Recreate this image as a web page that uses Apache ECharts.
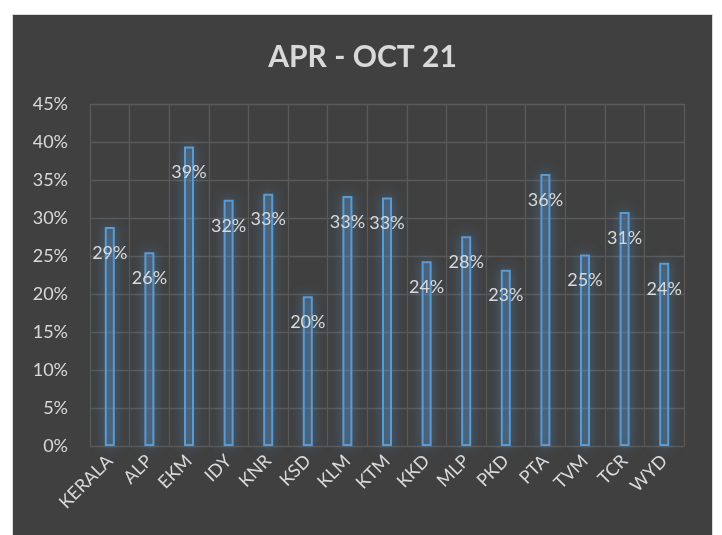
<!DOCTYPE html>
<html>
<head>
<meta charset="utf-8">
<script src="https://cdn.jsdelivr.net/npm/echarts@6/dist/echarts.min.js"></script>
<style>
  html, body { margin: 0; padding: 0; background: #fff; }
  #panel {
    position: absolute; left: 12px; top: 14px;
    width: 699px; height: 521px;
    border: 1px solid #d9d9d9; border-bottom: none;
    background: #404040;
  }
  #chart { width: 699px; height: 521px; }
</style>
</head>
<body>
<div id="panel"><div id="chart"></div></div>
<script>
// 区域
var categories = ['KERALA', 'ALP', 'EKM', 'IDY', 'KNR', 'KSD', 'KLM', 'KTM', 'KKD', 'MLP', 'PKD', 'PTA', 'TVM', 'TCR', 'WYD'];
// 百分比 (%)
var values = [28.8, 25.5, 39.4, 32.4, 33.2, 19.7, 32.9, 32.7, 24.3, 27.6, 23.2, 35.8, 25.2, 30.8, 24.1];
var titleText = 'APR - OCT 21';

var myChart = echarts.init(document.getElementById('chart'));
var option = {
  backgroundColor: 'transparent',
  textStyle: { fontFamily: 'Lato' },
  title: {
    text: titleText,
    left: 'center',
    top: 22,
    textStyle: {
      color: '#d9d9d9',
      fontFamily: 'Lato',
      fontWeight: 'bold',
      fontSize: 30
    }
  },
  grid: {
    left: 77,
    right: 28,
    top: 89,
    bottom: 90
  },
  xAxis: {
    type: 'category',
    data: categories,
    axisLine: { lineStyle: { color: '#5a5a5a' } },
    axisTick: { show: false },
    splitLine: {
      show: true,
      lineStyle: { color: '#5a5a5a', width: 1.3 }
    },
    axisLabel: {
      color: '#d9d9d9',
      fontSize: 18,
      rotate: 45,
      margin: 12,
      interval: 0
    }
  },
  yAxis: {
    type: 'value',
    min: 0,
    max: 45,
    interval: 5,
    axisLine: { show: false },
    axisTick: { show: false },
    splitLine: {
      lineStyle: { color: '#5a5a5a', width: 1.3 }
    },
    axisLabel: {
      color: '#d9d9d9',
      fontSize: 18,
      margin: 22,
      formatter: '{value}%'
    }
  },
  series: [
    {
      type: 'bar',
      data: values,
      barWidth: 10,
      itemStyle: {
        color: 'rgba(91,155,213,0.22)',
        borderColor: '#5b9bd5',
        borderWidth: 2,
        shadowBlur: 14,
        shadowColor: 'rgba(91,155,213,0.8)'
      },
      label: {
        show: true,
        position: 'insideTop',
        distance: 17,
        color: '#d9d9d9',
        fontSize: 18,
        formatter: function (p) {
          return Math.round(p.value) + '%';
        }
      }
    }
  ]
};
myChart.setOption(option);
</script>
</body>
</html>
